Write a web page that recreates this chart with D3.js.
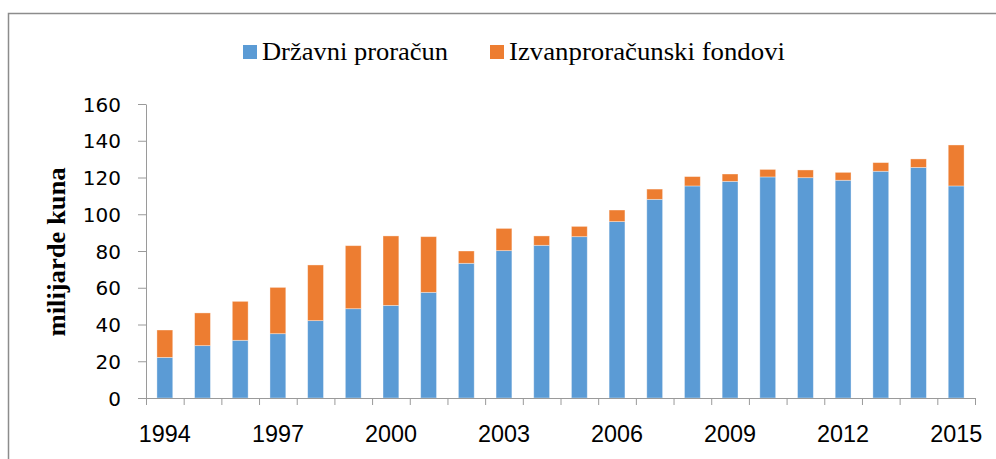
<!DOCTYPE html>
<html>
<head>
<meta charset="utf-8">
<script src="https://cdn.jsdelivr.net/npm/d3@7"></script>
<style>
  body { margin: 0; background: #fff; }
  svg { display: block; }
</style>
</head>
<body>
<div id="chart"></div>
<script>
// data (milijarde kuna)
const years = ["1994","1995","1996","1997","1998","1999","2000","2001","2002","2003","2004",
               "2005","2006","2007","2008","2009","2010","2011","2012","2013","2014","2015"];
const drzavniProracun = [22.1, 28.5, 31.4, 35.0, 42.1, 48.6, 50.4, 57.5, 73.3, 80.2, 83.1,
                         87.8, 96.0, 108.1, 115.4, 117.9, 120.3, 119.9, 118.5, 123.4, 125.5, 115.4];
const ukupno = [37.0, 46.3, 52.6, 60.2, 72.4, 82.9, 88.2, 87.8, 80.0, 92.3, 88.2,
                93.4, 102.3, 113.7, 120.5, 121.9, 124.4, 124.1, 122.8, 128.1, 130.1, 137.7];
const izvanproracunski = ukupno.map((t, i) => +(t - drzavniProracun[i]).toFixed(1));
const seriesNames = ["Državni proračun", "Izvanproračunski fondovi"];
const seriesColors = ["#5B9BD5", "#ED7D31"];
const yTicks = [0, 20, 40, 60, 80, 100, 120, 140, 160];
const xLabelYears = ["1994","1997","2000","2003","2006","2009","2012","2015"];

const W = 996, H = 459;
const margin = { top: 104, right: 21, bottom: 61, left: 146 };
const width = W - margin.left - margin.right;
const height = H - margin.top - margin.bottom;

const svg = d3.select("#chart").append("svg")
    .attr("width", W)
    .attr("height", H);

// outer chart frame (only top and left edges show in the picture)
svg.append("rect")
    .attr("x", 8.5).attr("y", 13.5)
    .attr("width", 1100).attr("height", 600)
    .attr("fill", "none")
    .attr("stroke", "#8c8c8c")
    .attr("stroke-width", 1.5);

const g = svg.append("g")
    .attr("transform", "translate(" + margin.left + "," + margin.top + ")");

const x = d3.scaleBand()
    .domain(years)
    .range([0, width])
    .paddingInner(0.58)
    .paddingOuter(0.29);

const xEdge = d3.scaleLinear()
    .domain([0, years.length])
    .range([0, width]);

const y = d3.scaleLinear()
    .domain([0, 160])
    .range([height, 0]);

// stacked data
const table = years.map((yr, i) => ({ year: yr, a: drzavniProracun[i], b: izvanproracunski[i] }));
const stacked = d3.stack().keys(["a", "b"])(table);

g.selectAll(".series")
    .data(stacked)
    .join("g")
    .attr("class", "series")
    .attr("fill", (d, i) => seriesColors[i])
    .selectAll("rect")
    .data(d => d)
    .join("rect")
    .attr("x", d => x(d.data.year))
    .attr("y", d => y(d[1]))
    .attr("width", x.bandwidth())
    .attr("height", d => y(d[0]) - y(d[1]))
    .attr("stroke", "#ffffff")
    .attr("stroke-opacity", 0.45)
    .attr("stroke-width", 0.8);

// y axis
const yAxis = g.append("g")
    .call(d3.axisLeft(y).tickValues(yTicks).tickSize(8).tickPadding(17).tickSizeOuter(0));
yAxis.select(".domain").attr("stroke", "#9a9a9a");
yAxis.selectAll(".tick line").attr("stroke", "#9a9a9a");
yAxis.selectAll("text")
    .attr("font-family", "'DejaVu Sans', sans-serif")
    .attr("font-size", 20)
    .attr("fill", "#000")
    .attr("dy", "0.36em");

// x axis: ticks at category edges
const xAxis = g.append("g")
    .attr("transform", "translate(0," + height + ")")
    .call(d3.axisBottom(xEdge).tickValues(d3.range(years.length + 1)).tickSize(7).tickSizeOuter(0).tickFormat(""));
xAxis.select(".domain").attr("stroke", "#9a9a9a");
xAxis.selectAll(".tick line").attr("stroke", "#9a9a9a");

// x labels every third year
const xLab = g.append("g")
    .attr("transform", "translate(0," + height + ")")
    .call(d3.axisBottom(x).tickValues(xLabelYears).tickSize(0).tickPadding(27));
xLab.select(".domain").remove();
xLab.selectAll("text")
    .attr("font-family", "'Liberation Sans', Arial, sans-serif")
    .attr("font-size", 24)
    .attr("fill", "#000")
    .attr("textLength", 52)
    .attr("lengthAdjust", "spacingAndGlyphs");

// y axis title
svg.append("text")
    .attr("transform", "translate(65,252) rotate(-90)")
    .attr("text-anchor", "middle")
    .attr("font-family", "'Liberation Serif', 'Times New Roman', serif")
    .attr("font-weight", "bold")
    .attr("font-size", 25)
    .attr("textLength", 169)
    .attr("lengthAdjust", "spacingAndGlyphs")
    .text("milijarde kuna");

// legend
const legendItems = [
  { name: seriesNames[0], color: seriesColors[0], x: 243, len: 186 },
  { name: seriesNames[1], color: seriesColors[1], x: 490, len: 276 }
];
const legend = svg.append("g");
const li = legend.selectAll("g").data(legendItems).join("g")
    .attr("transform", d => "translate(" + d.x + ",0)");
li.append("rect")
    .attr("x", 0).attr("y", 45)
    .attr("width", 14).attr("height", 14)
    .attr("fill", d => d.color);
li.append("text")
    .attr("x", 19).attr("y", 60)
    .attr("font-family", "'Liberation Serif', 'Times New Roman', serif")
    .attr("font-size", 26)
    .attr("textLength", d => d.len)
    .attr("lengthAdjust", "spacingAndGlyphs")
    .text(d => d.name);
</script>
</body>
</html>
